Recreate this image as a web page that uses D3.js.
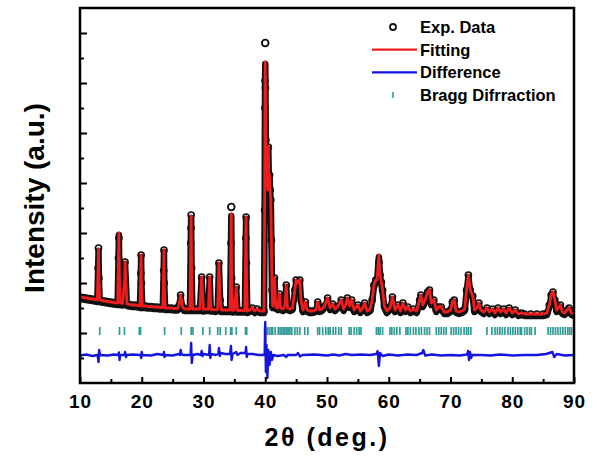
<!DOCTYPE html>
<html>
<head>
<meta charset="utf-8">
<script src="https://cdn.jsdelivr.net/npm/d3@7"></script>
<style>
  html, body { margin: 0; padding: 0; background: #fff; }
  svg { display: block; }
  text { font-family: "Liberation Sans", Arial, sans-serif; font-weight: bold; }
</style>
</head>
<body>
<svg id="chart" width="597" height="461"></svg>
<script>
// ---------- DATA ----------
const xTicks = [10, 20, 30, 40, 50, 60, 70, 80, 90];
const xMinorTicks = [15, 25, 35, 45, 55, 65, 75, 85];
const yTicks = [2000, 4000, 6000, 8000, 10000, 12000, 14000];
const yMinorTicks = [1000, 3000, 5000, 7000, 9000, 11000, 13000];

// profile points: 2theta, observed intensity, calculated intensity
const twoTheta = [10.0,10.5,11.0,11.5,12.0,12.5,12.8,12.93,13.0,13.07,13.2,13.5,14.0,14.5,15.0,15.5,16.1,16.23,16.3,16.37,16.5,16.9,17.25,17.3,17.6,18.0,18.5,19.0,19.5,19.7,19.85,19.9,19.95,20.1,20.6,21.0,21.5,22.0,22.5,23.0,23.4,23.55,23.6,23.65,23.8,24.3,24.8,25.3,25.8,26.0,26.3,26.6,26.9,27.3,27.8,27.93,27.97,28.0,28.07,28.2,28.6,29.0,29.4,29.7,30.0,30.4,30.8,31.0,31.2,31.6,32.0,32.3,32.5,32.7,32.9,33.3,33.7,34.1,34.3,34.45,34.5,34.55,34.7,35.0,35.3,35.5,35.9,36.3,36.7,36.85,36.9,36.95,37.1,37.5,37.9,38.3,38.7,39.1,39.5,39.8,39.9,39.95,39.97,40.0,40.03,40.1,40.2,40.3,40.4,40.5,40.6,40.7,40.8,40.9,41.0,41.1,41.2,41.5,41.7,42.0,42.3,42.5,42.9,43.2,43.4,43.6,44.0,44.4,44.8,45.0,45.3,45.6,45.8,46.1,46.5,46.8,47.2,47.7,48.2,48.5,48.8,49.2,49.6,50.1,50.5,50.9,51.3,51.8,52.3,52.7,53.0,53.3,53.7,54.0,54.4,55.0,55.4,55.8,56.1,56.5,57.0,57.3,57.6,57.9,58.1,58.4,58.6,58.8,59.0,59.3,59.7,60.2,60.6,61.0,61.5,61.9,62.3,62.7,63.1,63.5,64.0,64.5,65.0,65.2,65.5,65.9,66.3,66.6,66.9,67.3,67.7,68.1,68.5,69.0,69.5,70.0,70.3,70.6,70.9,71.4,71.9,72.3,72.6,72.9,73.2,73.6,73.9,74.3,74.6,74.9,75.4,75.9,76.3,76.8,77.2,77.7,78.1,78.6,79.0,79.5,80.0,80.5,81.0,81.5,82.0,83.0,84.0,85.0,85.6,86.0,86.3,86.6,86.9,87.2,87.6,87.8,88.1,88.5,88.9,89.2,89.6,90.0];
const observed = [3440,3420,3400,3380,3360,3340,3320,4600,5400,4200,3320,3300,3280,3260,3240,3220,3200,5000,5800,4400,3200,3180,4200,4840,3160,3140,3120,3120,3100,3080,4400,5120,4000,3080,3080,3060,3060,3040,3040,3020,3020,4500,5320,4000,3000,3000,3000,2980,2980,3080,3520,3040,2960,2960,2960,5600,6200,6720,4600,2960,2960,2960,2960,4240,2940,2960,2960,4240,2940,2940,2920,2960,4800,3320,2920,2920,2920,2920,2920,5600,7040,4200,2900,2920,3840,2900,2900,2900,2900,5800,6640,4800,2880,2920,3000,2880,2960,2880,2880,2880,6920,11000,12100,13600,11800,9720,7920,8840,7720,9440,7920,8320,7720,7320,5720,3720,3080,4200,3040,3000,3560,3000,2960,3120,3920,3000,2960,3000,3720,4120,4000,4120,3320,2920,3240,2920,2880,2880,2920,3240,2920,2960,3080,3400,3000,3160,2960,3080,3320,2960,3120,3400,3080,3320,2920,3120,2880,3000,3200,2880,2960,3320,3920,4120,4120,4840,4320,4040,3720,3080,2880,3000,3440,2920,3120,2880,3200,2920,3040,2880,2960,2880,3320,3520,3120,3320,3640,3720,3200,3320,2920,3040,3040,2840,2840,2920,3240,3320,2880,2840,2880,2960,3720,4320,3720,3480,2920,3000,3200,2920,2840,3000,2840,2960,2800,3000,2840,2960,2800,3000,2800,2920,2760,2800,2760,2760,2760,2760,2800,3120,3520,3640,3320,2920,3040,3120,2840,2800,2920,3000,2800,2760];
const calculated = [3440,3420,3400,3380,3360,3340,3320,4600,5360,4200,3320,3300,3280,3260,3240,3220,3200,5000,6000,4400,3200,3180,4200,4840,3160,3140,3120,3120,3100,3080,4400,5120,4000,3080,3080,3060,3060,3040,3040,3020,3020,4500,5320,4000,3000,3000,3000,2980,2980,3080,3520,3040,2960,2960,2960,5600,6200,6680,4600,2960,2960,2960,2960,4240,2940,2960,2960,4240,2940,2940,2920,2960,4800,3320,2920,2920,2920,2920,2920,5600,6760,4200,2900,2920,3840,2900,2900,2900,2900,5800,6640,4800,2880,2920,3000,2880,2960,2880,2880,2880,6920,11000,12100,12840,11800,9720,7920,8840,7720,9440,7920,8320,7720,7320,5720,3720,3080,4200,3040,3000,3560,3000,2960,3120,3920,3000,2960,3000,3720,4120,4000,4120,3320,2920,3240,2920,2880,2880,2920,3240,2920,2960,3080,3400,3000,3160,2960,3080,3320,2960,3120,3400,3080,3320,2920,3120,2880,3000,3200,2880,2960,3320,3920,4120,4120,5120,4320,4040,3720,3080,2880,3000,3440,2920,3120,2880,3200,2920,3040,2880,2960,2880,3320,3520,3120,3320,3640,3720,3200,3320,2920,3040,3040,2840,2840,2920,3240,3320,2880,2840,2880,2960,3720,4320,3720,3480,2920,3000,3200,2920,2840,3000,2840,2960,2800,3000,2840,2960,2800,3000,2800,2920,2760,2800,2760,2760,2760,2760,2800,3120,3520,3640,3320,2920,3040,3120,2840,2800,2920,3000,2800,2760];

// difference curve: [2theta, obs - calc (offset)]
const differenceCurve = [
  [10.0,1100],[11.0,1140],[12.0,1080],[12.85,1120],[13.0,840],[13.1,1320],[13.25,1120],[14.5,1100],[15.5,1140],
  [16.2,1120],[16.3,1220],[16.4,920],[16.5,1120],[17.2,1120],[17.3,1240],[17.45,1040],[17.6,1120],[18.5,1140],
  [19.8,1120],[19.9,1000],[20.0,1240],[20.1,1120],[21.5,1100],[22.5,1160],[23.5,1120],[23.6,1240],[23.7,1040],
  [23.8,1120],[25.0,1100],[26.0,1160],[26.2,1120],[26.3,1320],[26.45,1160],[26.6,1120],[27.9,1120],[28.0,1600],
  [28.1,800],[28.25,1120],[29.0,1160],[29.6,1120],[29.7,1280],[29.85,1080],[30.0,1160],[30.9,1120],[31.0,1520],
  [31.1,1000],[31.2,1160],[32.0,1120],[32.4,1160],[32.5,1400],[32.65,1080],[32.8,1200],[33.5,1160],[34.3,1160],
  [34.45,1480],[34.55,920],[34.7,1160],[35.3,1240],[35.5,1120],[36.0,1200],[36.8,1200],[36.9,1440],[37.0,1040],
  [37.1,1160],[38.0,1160],[39.0,1120],[39.9,1120],[40.0,2440],[40.1,440],[40.2,1520],[40.35,200],[40.5,1320],
  [40.7,720],[40.9,1240],[41.1,920],[41.3,1120],[42.0,1080],[43.0,1120],[43.4,1040],[43.6,1120],[45.0,1120],
  [45.3,1200],[45.6,1060],[46.0,1120],[48.0,1140],[50.0,1100],[51.0,1140],[52.0,1100],[53.0,1160],[54.0,1120],
  [55.5,1140],[57.0,1120],[58.0,1160],[58.2,1280],[58.4,680],[58.6,1200],[59.0,1080],[60.0,1140],[61.5,1100],
  [63.0,1140],[64.5,1120],[65.4,1200],[65.6,1320],[65.9,1100],[67.0,1140],[68.5,1100],[70.0,1120],[71.5,1100],
  [72.7,1140],[72.85,1280],[73.0,920],[73.15,1240],[73.35,1000],[73.5,1120],[75.0,1120],[76.5,1100],[78.0,1140],
  [80.0,1100],[82.0,1120],[84.0,1120],[85.5,1160],[86.5,1240],[86.8,1040],[87.2,1160],[88.5,1100],[90.0,1120]
];

// Bragg reflection positions
const braggPositions = [13.2,16.4,17.2,19.6,19.8,23.7,26.4,28.0,28.3,29.9,31.0,32.3,32.7,33.6,34.4,34.6,35.3,36.8,37.0,
  39.9,40.1,40.4,40.7,41.0,41.2,41.6,42.1,42.4,42.7,43.0,43.2,43.5,43.7,44.0,44.3,44.8,45.2,45.6,46.4,46.9,
  48.5,48.8,49.3,49.8,50.2,50.5,51.0,51.4,51.9,52.3,53.6,53.9,54.4,54.8,55.2,55.5,58.0,58.3,58.6,59.0,
  60.2,60.5,60.9,61.3,61.8,62.8,63.1,63.5,64.0,64.4,64.9,65.3,65.8,66.2,66.6,67.7,68.1,68.5,68.9,69.3,
  70.1,70.5,70.9,71.3,71.7,72.2,72.6,72.9,73.3,75.9,76.7,77.2,77.6,78.0,78.4,78.8,79.3,79.7,80.1,80.5,80.9,81.3,81.5,
  82.0,82.4,82.8,83.1,83.7,85.8,86.2,86.6,87.0,87.4,87.8,88.2,88.6,89.0,89.3,89.6];
const braggLevel = 2080;

const legendLabels = ["Exp. Data", "Fitting", "Difference", "Bragg Difrraction"];
const xTitle = "2\u03b8 (deg.)";
const yTitle = "Intensity (a.u.)";

// ---------- DRAWING ----------
const W = 597, H = 461;
const margin = {left: 80, right: 23, top: 8, bottom: 78};
const svg = d3.select("#chart");

const x = d3.scaleLinear().domain([10, 90]).range([margin.left, W - margin.right]);
const y = d3.scaleLinear().domain([0, 15000]).range([H - margin.bottom, margin.top]);

const RED = "#ee1c1c", BLUE = "#1515e0", TEAL = "#2f9c98";

svg.append("clipPath").attr("id", "plotclip").append("rect")
  .attr("x", margin.left).attr("y", margin.top)
  .attr("width", W - margin.left - margin.right).attr("height", H - margin.top - margin.bottom);

const plot = svg.append("g").attr("clip-path", "url(#plotclip)");

// Bragg marks
plot.append("g").selectAll("line").data(braggPositions).join("line")
  .attr("x1", d => x(d)).attr("x2", d => x(d))
  .attr("y1", y(braggLevel) - 4).attr("y2", y(braggLevel) + 4)
  .attr("stroke", TEAL).attr("stroke-width", 1.7);

// difference
plot.append("path").datum(differenceCurve)
  .attr("d", d3.line().x(d => x(d[0])).y(d => y(d[1])))
  .attr("fill", "none").attr("stroke", BLUE).attr("stroke-width", 2.4).attr("stroke-linejoin", "round");

// observed + calculated
const prof = twoTheta.map((t, i) => ({t, o: observed[i], c: calculated[i]}));
const calcLine = d3.line().x(d => x(d.t)).y(d => y(d.c));

// dense observed points band (black) under the fit
plot.append("path").datum(prof)
  .attr("d", calcLine).attr("transform", "translate(0,2)")
  .attr("fill", "none").attr("stroke", "#111").attr("stroke-width", 6.5).attr("stroke-linejoin", "round");

plot.append("g").selectAll("circle").data(prof).join("circle")
  .attr("cx", d => x(d.t)).attr("cy", d => y(d.o)).attr("r", 3)
  .attr("fill", "none").attr("stroke", "#111").attr("stroke-width", 1.7);

plot.append("path").datum(prof)
  .attr("d", calcLine)
  .attr("fill", "none").attr("stroke", RED).attr("stroke-width", 2.8).attr("stroke-linejoin", "round");

// observed points that sit clearly above the fit
plot.append("g").selectAll("circle").data(prof.filter(d => d.o - d.c > 150)).join("circle")
  .attr("cx", d => x(d.t)).attr("cy", d => y(d.o)).attr("r", 3.3)
  .attr("fill", "#fff").attr("stroke", "#111").attr("stroke-width", 1.8);

// axes
const gx = svg.append("g").attr("transform", `translate(0,${H - margin.bottom})`)
  .call(d3.axisBottom(x).tickValues(xTicks).tickSize(-6).tickPadding(12).tickFormat(d3.format("d")));
svg.append("g").attr("transform", `translate(0,${H - margin.bottom})`)
  .call(d3.axisBottom(x).tickValues(xMinorTicks).tickSize(-4).tickFormat(""));
svg.append("g").attr("transform", `translate(${margin.left},0)`)
  .call(d3.axisLeft(y).tickValues(yTicks).tickSize(-7).tickFormat(""));
svg.append("g").attr("transform", `translate(${margin.left},0)`)
  .call(d3.axisLeft(y).tickValues(yMinorTicks).tickSize(-4).tickFormat(""));

svg.selectAll(".tick line").attr("stroke", "#000").attr("stroke-width", 2);
gx.selectAll("text").attr("font-size", 19).attr("font-weight", "bold").attr("fill", "#000")
  .attr("letter-spacing", 1).attr("font-family", "Liberation Sans, Arial, sans-serif");
svg.selectAll(".domain").remove();

// frame
svg.append("rect")
  .attr("x", margin.left).attr("y", margin.top)
  .attr("width", W - margin.left - margin.right).attr("height", H - margin.top - margin.bottom)
  .attr("fill", "none").attr("stroke", "#000").attr("stroke-width", 2.5);

// titles
svg.append("text").attr("x", (margin.left + W - margin.right) / 2).attr("y", 446)
  .attr("text-anchor", "middle").attr("font-size", 25).attr("letter-spacing", 2.5)
  .text(xTitle);
svg.append("text")
  .attr("transform", `translate(44,198) rotate(-90)`)
  .attr("text-anchor", "middle").attr("font-size", 28)
  .text(yTitle);

// legend
const lg = svg.append("g");
const lx = 393, ly0 = 27, ldy = 22.7, tx = 420;
legendLabels.forEach((lab, i) => {
  lg.append("text").attr("x", tx).attr("y", ly0 + i * ldy).attr("dy", "0.36em")
    .attr("font-size", 16.5).text(lab);
});
lg.append("circle").attr("cx", lx).attr("cy", ly0).attr("r", 3)
  .attr("fill", "none").attr("stroke", "#111").attr("stroke-width", 1.8);
lg.append("line").attr("x1", 372).attr("x2", 417).attr("y1", ly0 + ldy).attr("y2", ly0 + ldy)
  .attr("stroke", RED).attr("stroke-width", 2.2);
lg.append("line").attr("x1", 372).attr("x2", 417).attr("y1", ly0 + 2 * ldy).attr("y2", ly0 + 2 * ldy)
  .attr("stroke", BLUE).attr("stroke-width", 2.2);
lg.append("line").attr("x1", lx).attr("x2", lx).attr("y1", ly0 + 3 * ldy - 3).attr("y2", ly0 + 3 * ldy + 3)
  .attr("stroke", TEAL).attr("stroke-width", 1.6);
</script>
</body>
</html>
